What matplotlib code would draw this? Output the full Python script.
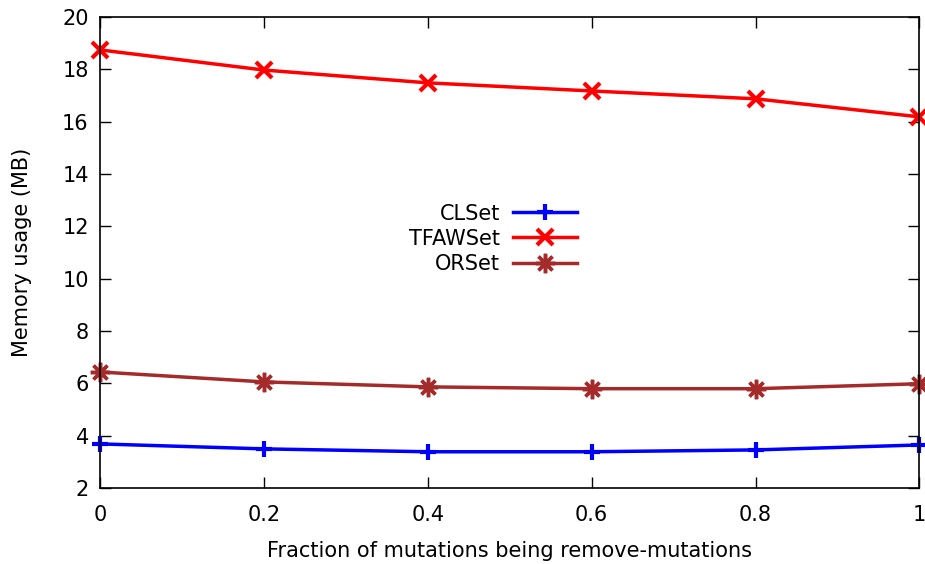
import matplotlib
matplotlib.use("Agg")
from matplotlib import pyplot as plt

fractions = [0, 0.2, 0.4, 0.6, 0.8, 1]
clset = [3.68, 3.49, 3.38, 3.38, 3.45, 3.64]
tfawset = [18.74, 17.97, 17.48, 17.17, 16.87, 16.18]
orset = [6.43, 6.05, 5.86, 5.79, 5.79, 5.98]

fig = plt.figure(figsize=(9.25, 5.64), dpi=100)
ax = fig.add_axes([0.108, 0.135, 0.886, 0.835])

ax.plot(fractions, clset, color='blue', marker='+', markersize=12, markeredgewidth=3,
        linewidth=2.5, label='CLSet', clip_on=False)
ax.plot(fractions, tfawset, color='red', marker='x', markersize=12, markeredgewidth=3,
        linewidth=2.5, label='TFAWSet', clip_on=False)
ax.plot(fractions, orset, color='#a52a2a', marker=(8, 2, 0), markersize=14, markeredgewidth=2.5,
        linewidth=2.5, label='ORSet', clip_on=False)

ax.set_xlim(0, 1)
ax.set_ylim(2, 20)
ax.set_xticks(fractions)
ax.set_xticklabels(['0', '0.2', '0.4', '0.6', '0.8', '1'])
ax.set_yticks(range(2, 21, 2))
ax.tick_params(direction='in', top=True, right=True, length=8, width=1, labelsize=15)
ax.tick_params(axis='x', pad=12)
ax.tick_params(axis='y', pad=8)
for s in ax.spines.values():
    s.set_linewidth(1.2)

ax.set_xlabel('Fraction of mutations being remove-mutations', fontsize=15, labelpad=12)
ax.set_ylabel('Memory usage (MB)', fontsize=15, labelpad=22)

ax.legend(loc='center', bbox_to_anchor=(0.48, 0.529), frameon=False, markerfirst=False,
          fontsize=15, handlelength=3.1, labelspacing=0.25, handletextpad=0.6)

fig.savefig('out.png', dpi=100)
